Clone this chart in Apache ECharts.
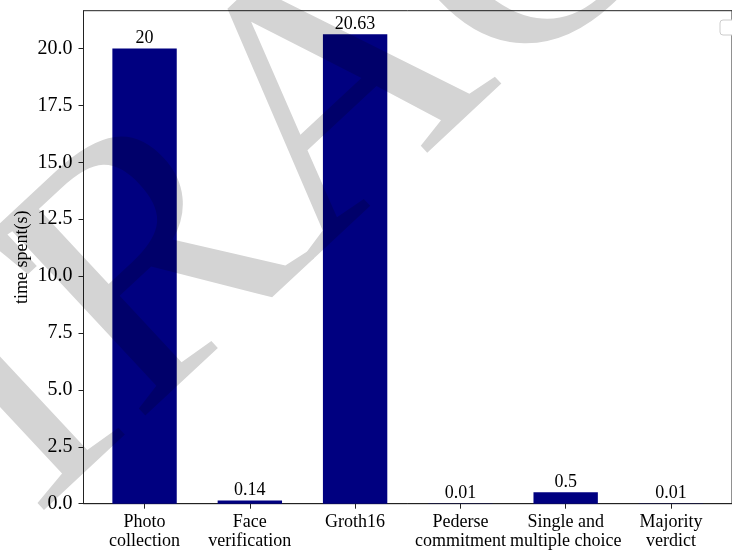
<!DOCTYPE html>
<html>
<head>
<meta charset="utf-8">
<script src="https://cdn.jsdelivr.net/npm/echarts@6/dist/echarts.min.js"></script>
<style>
  html, body { margin: 0; padding: 0; background: #fff; }
  #wrap { position: relative; width: 732px; height: 552px; }
  #chart { width: 732px; height: 552px; }
  #stamp { position: absolute; left: 0; top: 0; mix-blend-mode: multiply; pointer-events: none; }
</style>
</head>
<body>
<div id="wrap">
  <div id="chart"></div>
  <svg id="stamp" width="732" height="552" xmlns="http://www.w3.org/2000/svg"></svg>
</div>
<script>
// Per-stage timing of the voting protocol (seconds)
const categories = [
  'Photo\ncollection',
  'Face\nverification',
  'Groth16',
  'Pederse\ncommitment',
  'Single and\nmultiple choice',
  'Majority\nverdict'
];
const timeSpent = [20, 0.14, 20.63, 0.01, 0.5, 0.01];
const yTicks = [0, 2.5, 5, 7.5, 10, 12.5, 15, 17.5, 20];
const yAxisTitle = 'time spent(s)';

// axis extents: bars are 0.6 wide, 5% padding on x, 5% headroom on y
const xMin = -0.58, xMax = 5.58;
const yMax = 21.6615;

const gridLeft = 83.5, gridTop = 10.7, gridWidth = 660.9, gridHeight = 493;
const barWidthPx = gridWidth / (xMax - xMin) * 0.6;

const serif = '"Liberation Serif", "Times New Roman", serif';

const chart = echarts.init(document.getElementById('chart'), null, { renderer: 'canvas' });

chart.setOption({
  backgroundColor: '#fff',
  animation: false,
  grid: {
    left: gridLeft, top: gridTop, width: gridWidth, height: gridHeight,
    show: true, borderColor: '#222', borderWidth: 1, backgroundColor: 'transparent'
  },
  xAxis: {
    type: 'value',
    min: xMin, max: xMax,
    splitLine: { show: false },
    axisLine: { show: true, onZero: false, lineStyle: { color: '#222', width: 1 } },
    axisTick: { show: true, length: 5, customValues: categories.map((_, i) => i), lineStyle: { color: '#222' } },
    axisLabel: {
      customValues: categories.map((_, i) => i),
      formatter: v => categories[Math.round(v)],
      fontFamily: serif, fontSize: 18, color: '#000', lineHeight: 19, margin: 9
    }
  },
  yAxis: {
    type: 'value',
    min: 0, max: yMax,
    name: yAxisTitle,
    nameLocation: 'middle',
    nameGap: 52,
    nameMoveOverlap: false,
    nameTextStyle: { fontFamily: serif, fontSize: 18, color: '#000' },
    splitLine: { show: false },
    axisLine: { show: true, onZero: false, lineStyle: { color: '#222', width: 1 } },
    axisTick: { show: true, length: 5, customValues: yTicks, lineStyle: { color: '#222' } },
    axisLabel: {
      customValues: yTicks,
      formatter: v => v.toFixed(1),
      fontFamily: serif, fontSize: 20, color: '#000', margin: 11
    }
  },
  series: [{
    type: 'bar',
    data: timeSpent.map((v, i) => [i, v]),
    barWidth: barWidthPx,
    itemStyle: { color: '#000080' },
    label: {
      show: true, position: 'top', distance: 1,
      formatter: p => String(p.value[1]),
      fontFamily: serif, fontSize: 18, color: '#000'
    }
  }],
  graphic: [
    // empty legend frame in the upper right corner
    {
      type: 'rect', x: 720, y: 20, z: 50,
      shape: { width: 30, height: 15, r: 3 },
      style: { fill: '#fff', stroke: '#cccccc', lineWidth: 1 }
    }
  ]
});

// Diagonal grey page stamp laid over the figure (multiplied, so bars show through darker)
(function drawStamp() {
  const svg = document.getElementById('stamp');
  const ns = 'http://www.w3.org/2000/svg';
  const angle = 43;                       // degrees, counter-clockwise
  const origin = [310, 262];              // baseline start of the "A"
  const size = 366;
  const rad = angle * Math.PI / 180;
  const glyphs = [
    { ch: 'S', u: -640 },
    { ch: 'T', u: -420 },
    { ch: 'R', u: -238 },
    { ch: 'A', u: 0 },
    { ch: 'C', u: 258, v: -14 },
    { ch: 'T', u: 510 }
  ];
  glyphs.forEach(g => {
    const v = g.v || 0;                   // offset perpendicular to the baseline
    const x = origin[0] + g.u * Math.cos(rad) - v * Math.sin(rad);
    const y = origin[1] - g.u * Math.sin(rad) - v * Math.cos(rad);
    const t = document.createElementNS(ns, 'text');
    t.setAttribute('x', 0);
    t.setAttribute('y', 0);
    t.setAttribute('transform', `translate(${x.toFixed(1)},${y.toFixed(1)}) rotate(${-angle})`);
    t.setAttribute('font-family', 'Liberation Serif');
    t.setAttribute('font-size', size);
    t.setAttribute('fill', '#d4d4d4');
    t.textContent = g.ch;
    svg.appendChild(t);
  });
})();
</script>
</body>
</html>
